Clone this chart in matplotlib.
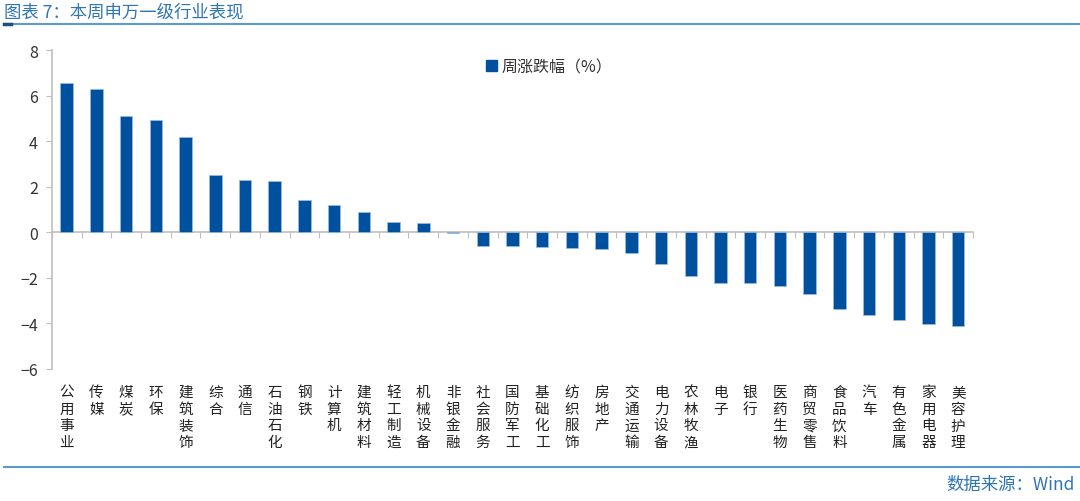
import numpy as np
import matplotlib
matplotlib.use('Agg')
import matplotlib.pyplot as plt
from matplotlib.lines import Line2D
from matplotlib.patches import Patch
import matplotlib.transforms as mtrans

plt.rcParams['font.family'] = ['Noto Sans CJK SC', 'DejaVu Sans']

industries = ['公用事业', '传媒', '煤炭', '环保', '建筑装饰', '综合', '通信', '石油石化',
              '钢铁', '计算机', '建筑材料', '轻工制造', '机械设备', '非银金融', '社会服务',
              '国防军工', '基础化工', '纺织服饰', '房地产', '交通运输', '电力设备', '农林牧渔',
              '电子', '银行', '医药生物', '商贸零售', '食品饮料', '汽车', '有色金属',
              '家用电器', '美容护理']
weekly_chg = [6.55, 6.31, 5.09, 4.94, 4.17, 2.53, 2.32, 2.26, 1.43, 1.20, 0.89, 0.47, 0.42,
              -0.05, -0.59, -0.59, -0.66, -0.67, -0.73, -0.89, -1.40, -1.90, -2.21, -2.24,
              -2.37, -2.71, -3.38, -3.63, -3.83, -4.01, -4.12]
legend_label = '周涨跌幅（%）'
title = '图表 7：本周申万一级行业表现'
source = '数据来源：Wind'

bar_color = '#0050A0'
axis_color = '#BFBFBF'
text_color = '#333333'
blue_text = '#2E75B6'
line_color = '#5B9BD5'

fig = plt.figure(figsize=(10.8, 5.02), dpi=100)
ax = fig.add_axes([0.048, 0.263, 0.853, 0.635])

x = np.arange(len(industries))
ax.bar(x, weekly_chg, width=0.42, color=bar_color, edgecolor='#9DBEE3', linewidth=0.5, zorder=3)

ax.set_xlim(-0.5, len(industries) - 0.5)
ax.set_ylim(-6, 8)
ax.set_yticks(np.arange(-6, 9, 2))
ax.tick_params(axis='y', direction='out', length=4, color=axis_color, labelsize=11.5,
               labelcolor=text_color, pad=6)

for s in ['top', 'right']:
    ax.spines[s].set_visible(False)
ax.spines['left'].set_color(axis_color)
ax.spines['left'].set_linewidth(1.2)
ax.spines['bottom'].set_position(('data', 0))
ax.spines['bottom'].set_color(axis_color)
ax.spines['bottom'].set_linewidth(1.2)
ax.set_xticks(np.arange(-0.5, len(industries), 1.0))
ax.set_xticklabels([])
ax.tick_params(axis='x', direction='out', length=4, color=axis_color)

trans = mtrans.blended_transform_factory(ax.transData, ax.transAxes)
for i, name in enumerate(industries):
    ax.text(i, -0.05, '\n'.join(name), transform=trans, ha='center', va='top',
            fontsize=10.5, color='#222222', linespacing=1.25)

ax.legend(handles=[Patch(facecolor=bar_color, edgecolor=bar_color)], labels=[legend_label],
          loc='upper center', bbox_to_anchor=(0.54, 1.02), frameon=False,
          handlelength=0.7, handleheight=0.7, handletextpad=0.3, fontsize=11.5,
          labelcolor=text_color)

fig.text(0.004, 0.975, title, fontsize=12.5, color=blue_text, ha='left', va='center',
         style='italic')
fig.add_artist(Line2D([0.004, 1.0], [0.950, 0.950], transform=fig.transFigure,
                      color=line_color, lw=1.5))
fig.add_artist(Line2D([0.004, 0.01], [0.950, 0.950], transform=fig.transFigure,
                      color='#1F4E79', lw=2.5))
fig.add_artist(Line2D([0.004, 1.0], [0.068, 0.068], transform=fig.transFigure,
                      color=line_color, lw=1.5))
fig.text(0.995, 0.034, source, fontsize=12.5, color=blue_text, ha='right', va='center')

fig.savefig('out.png', dpi=100)
